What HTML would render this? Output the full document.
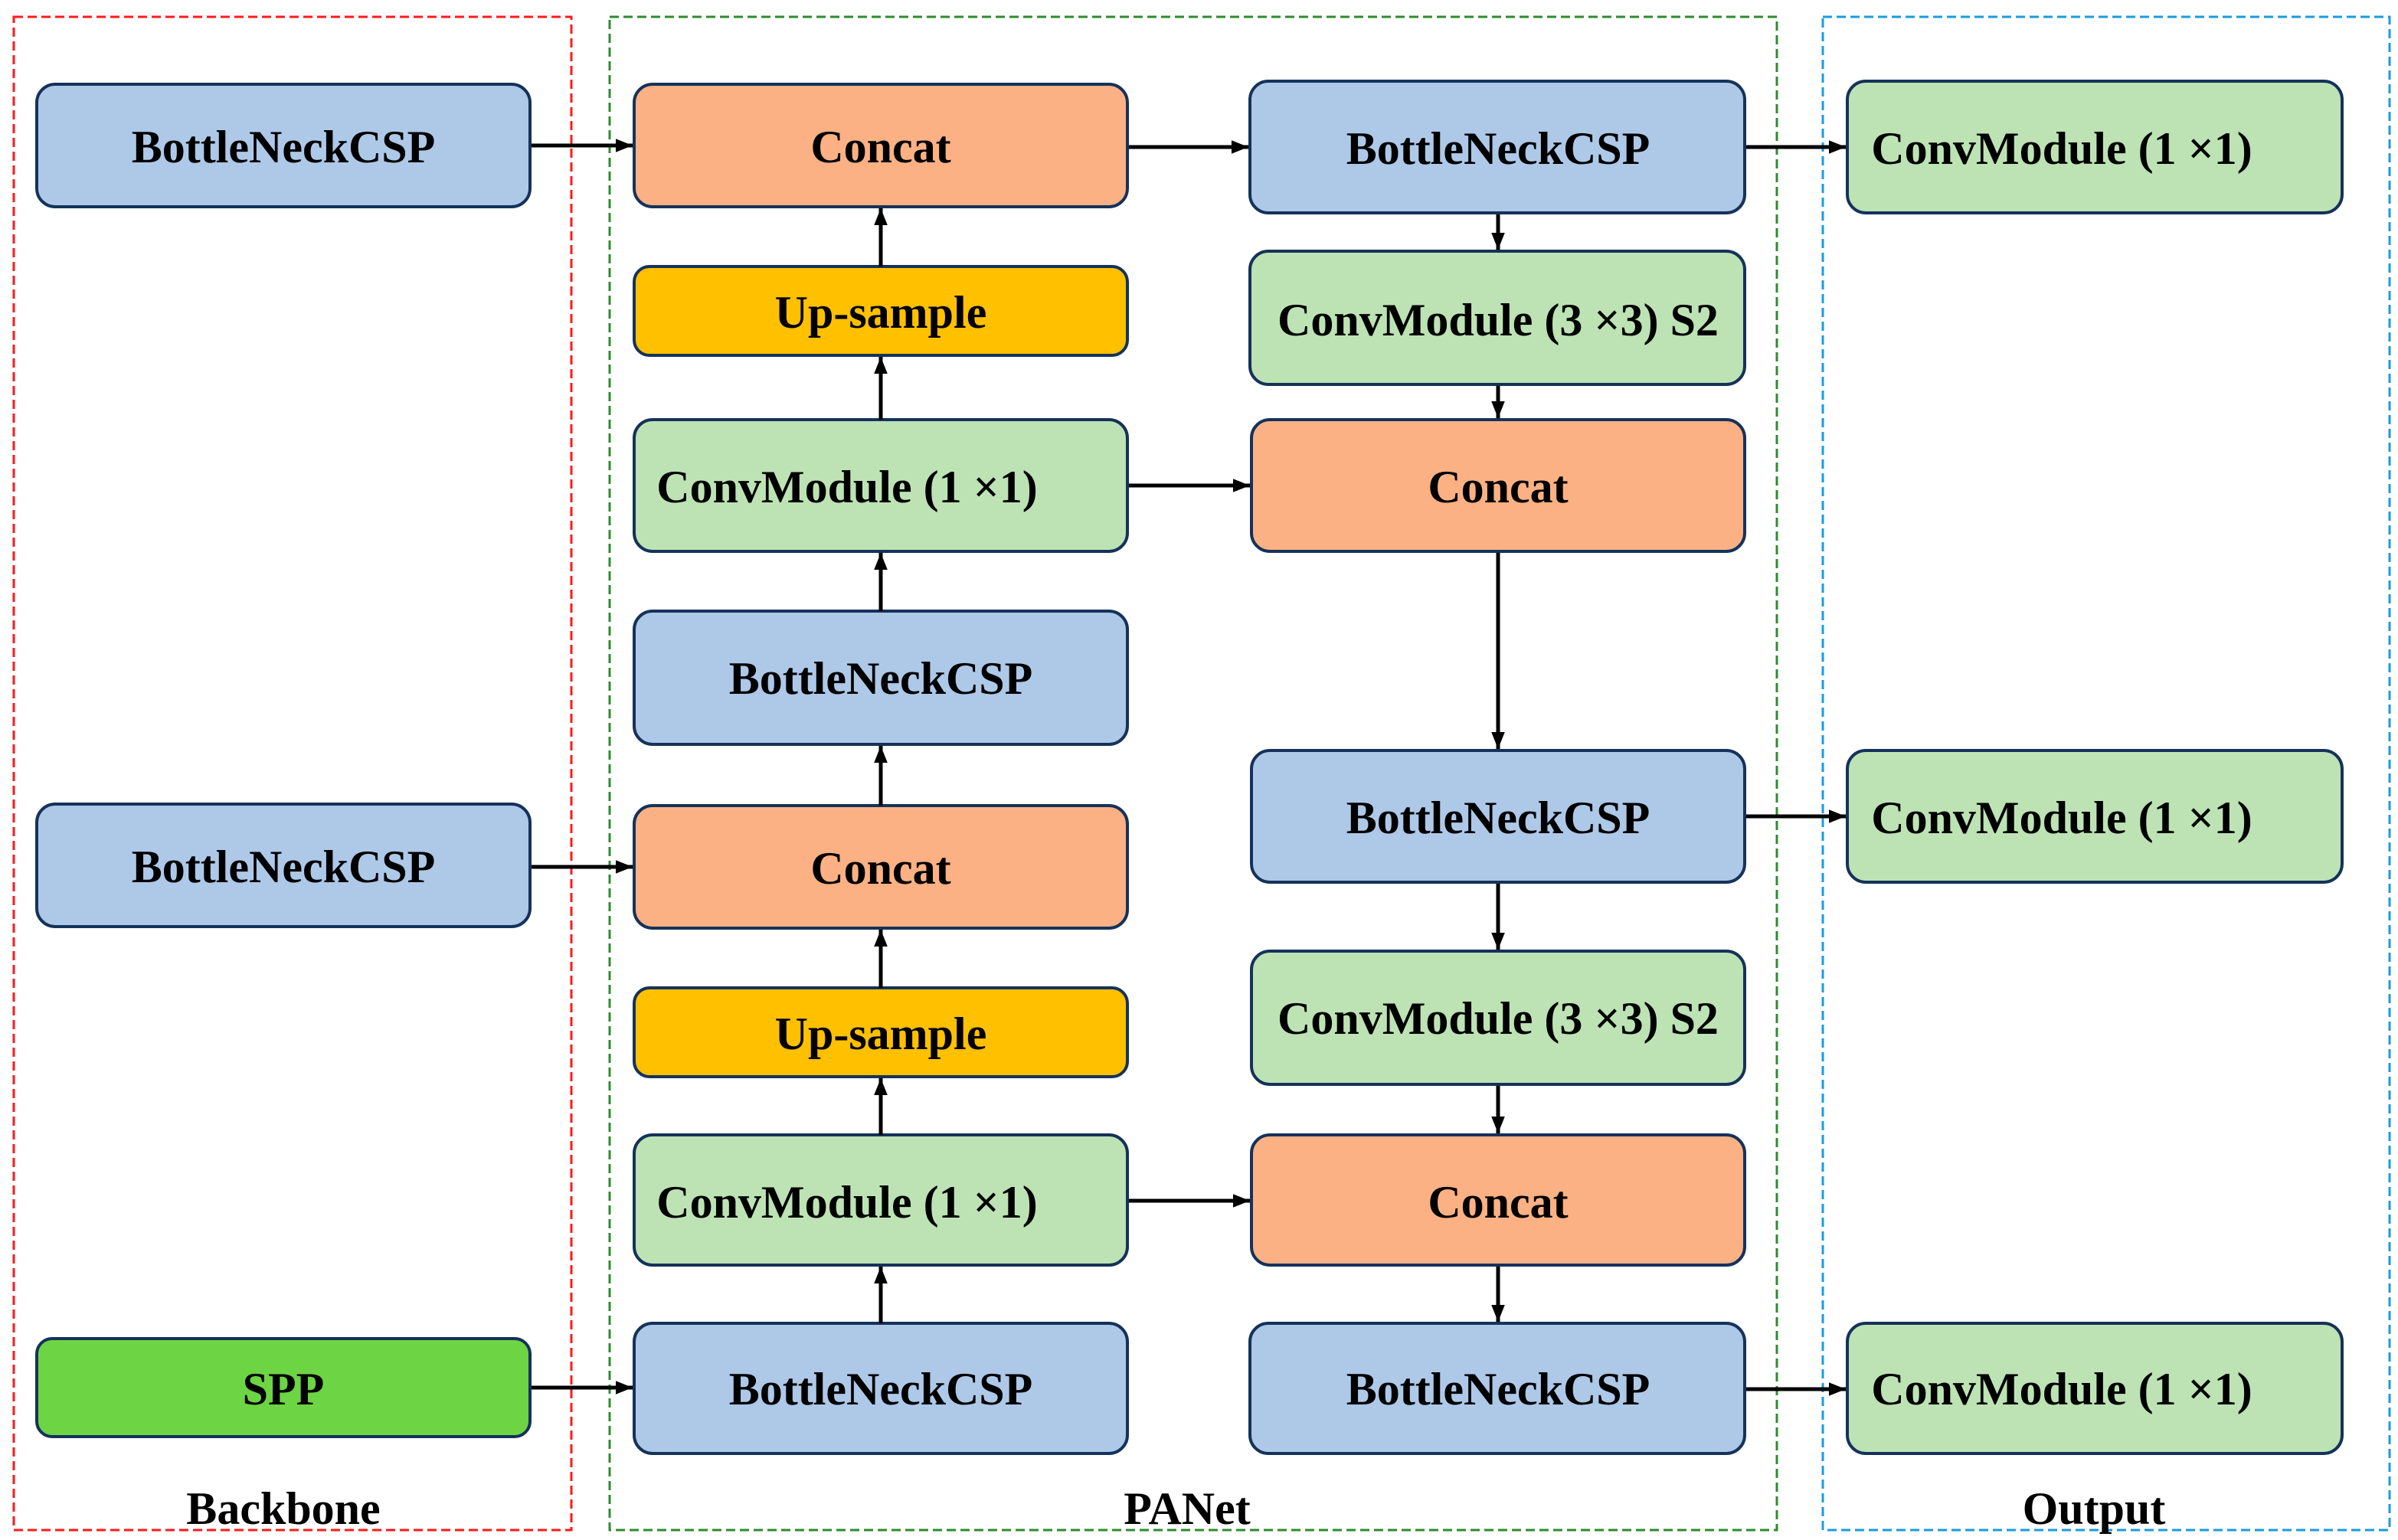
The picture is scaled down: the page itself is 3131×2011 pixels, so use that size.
<!DOCTYPE html>
<html><head><meta charset="utf-8"><style>
html,body{margin:0;padding:0;background:#fff;}
svg{display:block;}
text{font-family:"Liberation Serif",serif;font-weight:bold;font-size:30px;fill:#000;text-anchor:middle;dominant-baseline:central;}
</style></head><body>
<svg width="3131" height="2011" viewBox="0 0 1565.5 1005.5" preserveAspectRatio="none" xmlns="http://www.w3.org/2000/svg">
<defs>
<marker id="b" viewBox="0 0 10 10" refX="10" refY="5" markerWidth="11" markerHeight="11" orient="auto" markerUnits="userSpaceOnUse"><path d="M0,1 L10,5 L0,9 z" fill="#000"/></marker>
</defs>
<rect x="9" y="11" width="364" height="988" fill="none" stroke="#ff1a1a" stroke-width="1.5" stroke-dasharray="6,3"/>
<rect x="398" y="11" width="762" height="988" fill="none" stroke="#2e8b2e" stroke-width="1.5" stroke-dasharray="6,3"/>
<rect x="1190" y="11" width="370" height="988" fill="none" stroke="#1a9be0" stroke-width="1.5" stroke-dasharray="6,3"/>
<text x="185" y="985">Backbone</text>
<text x="775" y="985">PANet</text>
<text x="1367" y="985">Output</text>

<g stroke="#15325a" stroke-width="2">
<rect x="24" y="55" width="322" height="80" rx="12" fill="#aec8e8"/>
<rect x="24" y="525" width="322" height="80" rx="12" fill="#aec8e8"/>
<rect x="24" y="874" width="322" height="64" rx="10" fill="#6dd444"/>
<rect x="414" y="55" width="322" height="80" rx="12" fill="#fbb183"/>
<rect x="414" y="174" width="322" height="58" rx="10" fill="#ffc000"/>
<rect x="414" y="274" width="322" height="86" rx="12" fill="#bde3b4"/>
<rect x="414" y="399" width="322" height="87" rx="12" fill="#aec8e8"/>
<rect x="414" y="526" width="322" height="80" rx="12" fill="#fbb183"/>
<rect x="414" y="645" width="322" height="58" rx="10" fill="#ffc000"/>
<rect x="414" y="741" width="322" height="85" rx="12" fill="#bde3b4"/>
<rect x="414" y="864" width="322" height="85" rx="12" fill="#aec8e8"/>
<rect x="816" y="53" width="323" height="86" rx="12" fill="#aec8e8"/>
<rect x="816" y="164" width="323" height="87" rx="12" fill="#bde3b4"/>
<rect x="817" y="274" width="322" height="86" rx="12" fill="#fbb183"/>
<rect x="817" y="490" width="322" height="86" rx="12" fill="#aec8e8"/>
<rect x="817" y="621" width="322" height="87" rx="12" fill="#bde3b4"/>
<rect x="817" y="741" width="322" height="85" rx="12" fill="#fbb183"/>
<rect x="816" y="864" width="323" height="85" rx="12" fill="#aec8e8"/>
<rect x="1206" y="53" width="323" height="86" rx="12" fill="#bde3b4"/>
<rect x="1206" y="490" width="323" height="86" rx="12" fill="#bde3b4"/>
<rect x="1206" y="864" width="323" height="85" rx="12" fill="#bde3b4"/>
</g>

<text x="185" y="96">BottleNeckCSP</text>
<text x="185" y="566">BottleNeckCSP</text>
<text x="185" y="907">SPP</text>
<text x="575" y="96">Concat</text>
<text x="575" y="204">Up-sample</text>
<text x="553" y="318">ConvModule (1 ×1)</text>
<text x="575" y="443">BottleNeckCSP</text>
<text x="575" y="567">Concat</text>
<text x="575" y="675">Up-sample</text>
<text x="553" y="785">ConvModule (1 ×1)</text>
<text x="575" y="907">BottleNeckCSP</text>
<text x="978" y="97">BottleNeckCSP</text>
<text x="978" y="209">ConvModule (3 ×3) S2</text>
<text x="978" y="318">Concat</text>
<text x="978" y="534">BottleNeckCSP</text>
<text x="978" y="665">ConvModule (3 ×3) S2</text>
<text x="978" y="785">Concat</text>
<text x="978" y="907">BottleNeckCSP</text>
<text x="1346" y="97">ConvModule (1 ×1)</text>
<text x="1346" y="534">ConvModule (1 ×1)</text>
<text x="1346" y="907">ConvModule (1 ×1)</text>

<g stroke="#000" stroke-width="2.5" fill="none" marker-end="url(#b)">
<line x1="347" y1="95" x2="413" y2="95"/>
<line x1="347" y1="566" x2="413" y2="566"/>
<line x1="347" y1="906" x2="413" y2="906"/>
<line x1="737" y1="96" x2="815" y2="96"/>
<line x1="737" y1="317" x2="816" y2="317"/>
<line x1="737" y1="784" x2="816" y2="784"/>
<line x1="1140" y1="96" x2="1205" y2="96"/>
<line x1="1140" y1="533" x2="1205" y2="533"/>
<line x1="1140" y1="907" x2="1205" y2="907"/>
<line x1="575" y1="174" x2="575" y2="136"/>
<line x1="575" y1="274" x2="575" y2="233"/>
<line x1="575" y1="399" x2="575" y2="361"/>
<line x1="575" y1="526" x2="575" y2="487"/>
<line x1="575" y1="645" x2="575" y2="607"/>
<line x1="575" y1="741" x2="575" y2="704"/>
<line x1="575" y1="864" x2="575" y2="827"/>
<line x1="978" y1="140" x2="978" y2="163"/>
<line x1="978" y1="252" x2="978" y2="273"/>
<line x1="978" y1="361" x2="978" y2="489"/>
<line x1="978" y1="577" x2="978" y2="620"/>
<line x1="978" y1="709" x2="978" y2="740"/>
<line x1="978" y1="827" x2="978" y2="863"/>
</g>
</svg>
</body></html>
